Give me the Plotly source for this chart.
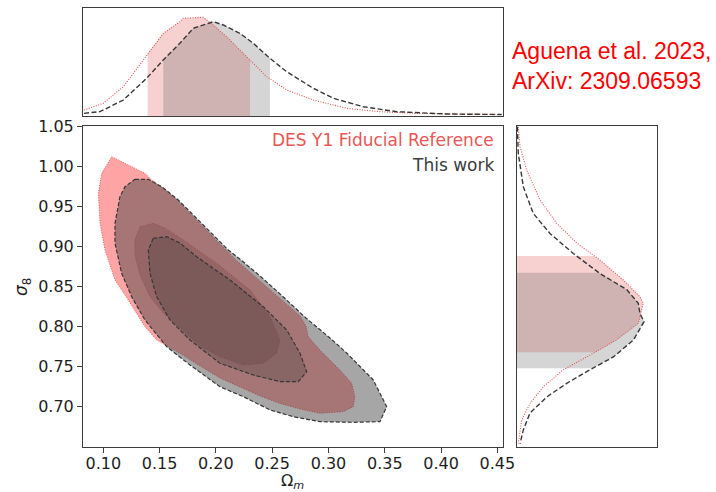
import numpy as np
import plotly.graph_objects as go

# ---------------- data ----------------
# 1D marginal of Omega_m (normalised density)
om_ref = [0.0829, 0.100, 0.1178, 0.1385, 0.1533, 0.168, 0.171, 0.1888, 0.1977, 0.2096,
          0.2273, 0.2451, 0.2629, 0.2865, 0.3161, 0.3457, 0.3753, 0.4538]
pom_ref = [0.046, 0.115, 0.286, 0.612, 0.835, 0.955, 0.99, 1.0, 0.92, 0.80,
           0.595, 0.389, 0.252, 0.149, 0.064, 0.029, 0.012, 0.0]
om_work = [0.0829, 0.097, 0.1178, 0.1385, 0.1533, 0.168, 0.180, 0.1977, 0.2066, 0.2214,
           0.2332, 0.248, 0.2629, 0.2865, 0.3043, 0.3309, 0.3605, 0.405, 0.4538]
pom_work = [0.012, 0.029, 0.149, 0.372, 0.561, 0.733, 0.887, 0.955, 0.921, 0.835,
            0.733, 0.578, 0.44, 0.27, 0.167, 0.08, 0.029, 0.005, 0.0]

# 1D marginal of sigma_8 (normalised density)
s8_ref = [1.049, 1.024, 0.995, 0.958, 0.929, 0.904, 0.883, 0.858, 0.837, 0.829,
          0.804, 0.783, 0.762, 0.746, 0.725, 0.704, 0.683, 0.654]
ps8_ref = [0.01, 0.024, 0.076, 0.18, 0.31, 0.47, 0.65, 0.835, 0.966, 0.992,
           0.953, 0.78, 0.547, 0.364, 0.207, 0.102, 0.037, 0.01]
s8_work = [1.049, 1.016, 0.974, 0.941, 0.916, 0.891, 0.866, 0.846, 0.829, 0.816,
           0.806, 0.783, 0.762, 0.746, 0.729, 0.712, 0.692, 0.671, 0.654]
ps8_work = [0.003, 0.01, 0.05, 0.128, 0.259, 0.442, 0.652, 0.862, 0.953, 0.966,
            0.998, 0.914, 0.757, 0.573, 0.39, 0.233, 0.102, 0.05, 0.024]

# 68% intervals
om_band_ref = [0.1394, 0.2303]
om_band_work = [0.1533, 0.2480]
s8_band_ref = [0.768, 0.888]
s8_band_work = [0.748, 0.867]

# 2D credible contours (Omega_m, sigma_8)
ref95_om = [0.1075, 0.1222, 0.1370, 0.1430, 0.1530, 0.1646, 0.1757, 0.1881, 0.2001, 0.2178,
            0.2338, 0.2498, 0.2747, 0.2800, 0.2821, 0.2924, 0.3102, 0.3206, 0.3235, 0.3220,
            0.3131, 0.2924, 0.2747, 0.2569, 0.2392, 0.2273, 0.2036, 0.1859, 0.1681, 0.1474,
            0.1370, 0.1222, 0.1104, 0.1015, 0.0971, 0.0956, 0.0986]
ref95_s8 = [1.0117, 1.0014, 0.9910, 0.9827, 0.9727, 0.9590, 0.9428, 0.9253, 0.9079, 0.8829,
            0.8630, 0.8430, 0.8131, 0.8006, 0.7873, 0.7707, 0.7458, 0.7292, 0.7125, 0.7000,
            0.6938, 0.6918, 0.6971, 0.7040, 0.7133, 0.7208, 0.7358, 0.7507, 0.7666, 0.7832,
            0.7997, 0.8330, 0.8580, 0.8954, 0.9287, 0.9661, 0.9910]
ref68_om = [0.1326, 0.1444, 0.1548, 0.1710, 0.2007, 0.2303, 0.2481, 0.2569, 0.2540, 0.2421,
            0.2243, 0.2036, 0.1859, 0.1681, 0.1533, 0.1415, 0.1326, 0.1281, 0.1281]
ref68_s8 = [0.9244, 0.9287, 0.9228, 0.9079, 0.8788, 0.8455, 0.8122, 0.7832, 0.7666, 0.7541,
            0.7520, 0.7623, 0.7757, 0.7981, 0.8168, 0.8372, 0.8642, 0.8891, 0.9079]
work95_om = [0.1281, 0.1400, 0.1519, 0.1666, 0.1903, 0.2110, 0.2223, 0.2392, 0.2551, 0.2800,
             0.3013, 0.3164, 0.3398, 0.3517, 0.3457, 0.3220, 0.2924, 0.2687, 0.2481, 0.2243,
             0.2036, 0.1770, 0.1563, 0.1370, 0.1252, 0.1163, 0.1104, 0.1104, 0.1148, 0.1193]
work95_s8 = [0.9835, 0.9835, 0.9743, 0.9577, 0.9244, 0.8954, 0.8829, 0.8630, 0.8430, 0.8106,
             0.7857, 0.7666, 0.7333, 0.7000, 0.6813, 0.6805, 0.6813, 0.6875, 0.6959, 0.7125,
             0.7249, 0.7520, 0.7748, 0.8081, 0.8372, 0.8663, 0.9037, 0.9287, 0.9618, 0.9743]
work68_om = [0.1444, 0.1563, 0.1681, 0.1829, 0.2125, 0.2421, 0.2629, 0.2747, 0.2806, 0.2732,
             0.2569, 0.2332, 0.2036, 0.1770, 0.1592, 0.1474, 0.1415, 0.1400]
work68_s8 = [0.9100, 0.9120, 0.9041, 0.8870, 0.8580, 0.8247, 0.7956, 0.7666, 0.7436, 0.7312,
             0.7312, 0.7395, 0.7541, 0.7832, 0.8081, 0.8372, 0.8663, 0.8954]

om_ticks = [0.10, 0.15, 0.20, 0.25, 0.30, 0.35, 0.40, 0.45]
s8_ticks = [0.70, 0.75, 0.80, 0.85, 0.90, 0.95, 1.00, 1.05]

# ---------------- styling ----------------
W, H = 716, 492
RED_LINE = "rgb(225,80,80)"
BLK_LINE = "rgb(55,55,55)"
RED_FILL95 = "rgba(255,90,90,0.55)"
RED_FILL68 = "rgba(155,63,63,0.30)"
GRY_FILL95 = "rgba(65,65,65,0.47)"
GRY_FILL68 = "rgba(65,65,65,0.30)"
RED_BAND = "rgba(230,100,100,0.30)"
GRY_BAND = "rgba(100,100,100,0.27)"
FRAME = "rgb(60,60,60)"
TXT = "rgb(30,30,30)"
TICKFONT = dict(family="DejaVu Sans", size=16, color=TXT)

OM_RANGE = [0.082, 0.455]
S8_RANGE = [0.6497, 1.05]
P_RANGE = [-0.0154, 1.0957]
Q_RANGE = [0.0, 1.0998]


def px_x(p):
    return p / W


def px_y(p):
    return 1 - p / H


def closed(a):
    return list(a) + [a[0]]


def band_polygon(xs, ys, lo, hi, base):
    xs = np.asarray(xs)
    ys = np.asarray(ys)
    order = np.argsort(xs)
    xs, ys = xs[order], ys[order]
    inner = [x for x in xs if lo < x < hi]
    grid = [lo] + inner + [hi]
    top = np.interp(grid, xs, ys)
    bx = [lo] + grid + [hi, lo]
    by = [base] + list(top) + [base, base]
    return bx, by


fig = go.Figure()

# ---- main 2D panel ----
red_dot = dict(color=RED_LINE, width=0.9, dash="1px,1.5px")
blk_dash = dict(color=BLK_LINE, width=1.2, dash="4px,2px")
for xs, ys, fc, ln in [(ref95_om, ref95_s8, RED_FILL95, red_dot),
                       (ref68_om, ref68_s8, RED_FILL68, red_dot),
                       (work95_om, work95_s8, GRY_FILL95, blk_dash),
                       (work68_om, work68_s8, GRY_FILL68, blk_dash)]:
    fig.add_trace(go.Scatter(x=closed(xs), y=closed(ys), mode="lines", fill="toself",
                             fillcolor=fc, line=ln, xaxis="x", yaxis="y", hoverinfo="skip"))

# ---- top marginal (Omega_m) ----
bx, by = band_polygon(om_ref, pom_ref, om_band_ref[0], om_band_ref[1], P_RANGE[0])
fig.add_trace(go.Scatter(x=bx, y=by, mode="none", fill="toself", fillcolor=RED_BAND,
                         xaxis="x2", yaxis="y2", hoverinfo="skip"))
bx, by = band_polygon(om_work, pom_work, om_band_work[0], om_band_work[1], P_RANGE[0])
fig.add_trace(go.Scatter(x=bx, y=by, mode="none", fill="toself", fillcolor=GRY_BAND,
                         xaxis="x2", yaxis="y2", hoverinfo="skip"))
fig.add_trace(go.Scatter(x=om_ref, y=pom_ref, mode="lines",
                         line=dict(color=RED_LINE, width=1.1, dash="1px,1.5px"),
                         xaxis="x2", yaxis="y2", hoverinfo="skip"))
fig.add_trace(go.Scatter(x=om_work, y=pom_work, mode="lines",
                         line=dict(color=BLK_LINE, width=1.4, dash="5px,2.5px"),
                         xaxis="x2", yaxis="y2", hoverinfo="skip"))

# ---- right marginal (sigma_8) ----
by, bx = band_polygon(s8_ref, ps8_ref, s8_band_ref[0], s8_band_ref[1], Q_RANGE[0])
fig.add_trace(go.Scatter(x=bx, y=by, mode="none", fill="toself", fillcolor=RED_BAND,
                         xaxis="x3", yaxis="y3", hoverinfo="skip"))
by, bx = band_polygon(s8_work, ps8_work, s8_band_work[0], s8_band_work[1], Q_RANGE[0])
fig.add_trace(go.Scatter(x=bx, y=by, mode="none", fill="toself", fillcolor=GRY_BAND,
                         xaxis="x3", yaxis="y3", hoverinfo="skip"))
fig.add_trace(go.Scatter(x=ps8_ref, y=s8_ref, mode="lines",
                         line=dict(color=RED_LINE, width=1.1, dash="1px,1.5px"),
                         xaxis="x3", yaxis="y3", hoverinfo="skip"))
fig.add_trace(go.Scatter(x=ps8_work, y=s8_work, mode="lines",
                         line=dict(color=BLK_LINE, width=1.4, dash="5px,2.5px"),
                         xaxis="x3", yaxis="y3", hoverinfo="skip"))

frame = dict(showline=True, linecolor=FRAME, linewidth=1, mirror=True, showgrid=False,
             zeroline=False)

main_x = [px_x(83), px_x(503)]
main_y = [px_y(447), px_y(126)]

fig.update_layout(
    width=W, height=H,
    margin=dict(l=0, r=0, t=0, b=0),
    paper_bgcolor="white", plot_bgcolor="white",
    showlegend=False,
    xaxis=dict(domain=main_x, range=OM_RANGE, anchor="y", tickvals=om_ticks,
               ticktext=[f"{v:.2f}" for v in om_ticks], ticks="outside", ticklen=5,
               tickcolor=FRAME, tickfont=TICKFONT, automargin=False, ticklabelstandoff=-3,
               **frame),
    yaxis=dict(domain=main_y, range=S8_RANGE, anchor="x", tickvals=s8_ticks,
               ticktext=[f"{v:.2f}" for v in s8_ticks], ticks="outside", ticklen=5,
               tickcolor=FRAME, tickfont=TICKFONT, automargin=False,
               **frame),
    xaxis2=dict(domain=main_x, range=OM_RANGE, anchor="y2", showticklabels=False,
                ticks="", **frame),
    yaxis2=dict(domain=[px_y(116), px_y(8)], range=P_RANGE, anchor="x2",
                showticklabels=False, ticks="", **frame),
    xaxis3=dict(domain=[px_x(517), px_x(657)], range=Q_RANGE, anchor="y3",
                showticklabels=False, ticks="", **frame),
    yaxis3=dict(domain=main_y, range=S8_RANGE, anchor="x3", showticklabels=False,
                ticks="", **frame),
    annotations=[
        # axis titles
        dict(text="Ω<sub><i>m</i></sub>", xref="paper", yref="paper",
             x=px_x(292), y=px_y(481), xanchor="center", yanchor="middle", showarrow=False,
             font=dict(family="DejaVu Sans", size=16, color=TXT)),
        dict(text="<i>σ</i><sub>8</sub>", xref="paper", yref="paper",
             x=px_x(22), y=px_y(287), xanchor="center", yanchor="middle", showarrow=False,
             textangle=-90, font=dict(family="DejaVu Sans", size=17, color=TXT)),
        # legend-style labels
        dict(text="DES Y1 Fiducial Reference", xref="paper", yref="paper",
             x=px_x(496), y=px_y(140), xanchor="right", yanchor="middle", showarrow=False,
             font=dict(family="DejaVu Sans", size=17, color="rgb(235,85,85)")),
        dict(text="This work", xref="paper", yref="paper",
             x=px_x(496), y=px_y(165), xanchor="right", yanchor="middle", showarrow=False,
             font=dict(family="DejaVu Sans", size=17, color="rgb(60,60,60)")),
        # citation
        dict(text="Aguena et al. 2023,<br>ArXiv: 2309.06593", xref="paper", yref="paper",
             x=px_x(510), y=px_y(66.5), xanchor="left", yanchor="middle", align="left",
             showarrow=False,
             font=dict(family="Liberation Sans", size=23, color="rgb(255,0,0)")),
    ],
)

fig.write_html("out.html")
